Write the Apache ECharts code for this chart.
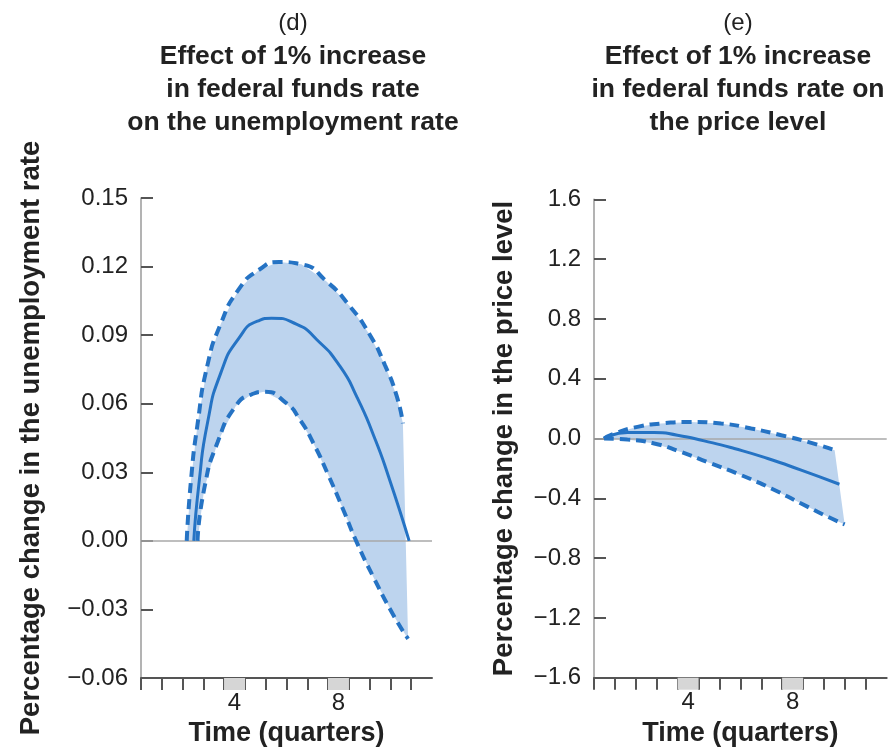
<!DOCTYPE html>
<html>
<head>
<meta charset="utf-8">
<script src="https://cdn.jsdelivr.net/npm/echarts@6/dist/echarts.min.js"></script>
<style>
  html, body { margin: 0; padding: 0; background: #fff; }
  #chart { width: 894px; height: 752px; }
</style>
</head>
<body>
<div id="chart"></div>
<script>
// Responses to a 1% rise in the federal funds rate.
// x = time in quarter slots along the axis, y = percentage change.

// (d) unemployment rate: point estimate and confidence band
const unempUpper = [[2.2, 0], [2.4, 0.026], [2.72, 0.051], [3.2, 0.077], [3.84, 0.095],
  [4.7, 0.11], [5.68, 0.1186], [6.64, 0.122], [7.72, 0.121], [8.93, 0.1135],
  [10.05, 0.1026], [11.0, 0.0903], [11.73, 0.077], [12.3, 0.0634], [12.6, 0.0514]];
const unempMid = [[2.54, 0], [2.8, 0.026], [3.2, 0.0517], [3.84, 0.0735], [4.72, 0.0888],
  [5.6, 0.0961], [6.28, 0.0974], [7.5, 0.0947], [8.45, 0.0881], [9.57, 0.0764],
  [10.4, 0.0627], [11.2, 0.0459], [11.9, 0.0284], [12.9, 0]];
const unempLower = [[2.72, 0], [3.04, 0.0227], [3.68, 0.043], [4.56, 0.059], [5.3, 0.064],
  [5.92, 0.0652], [6.96, 0.0605], [7.64, 0.0531], [8.3, 0.0426], [9.0, 0.029],
  [9.7, 0.0143], [10.35, 0], [11.2, -0.0162], [12.2, -0.0334], [12.85, -0.0429]];

// (e) price level: point estimate and confidence band
const priceUpper = [[0.48, 0], [0.96, 0.033], [2.08, 0.078], [3.2, 0.1], [4.64, 0.111],
  [6.08, 0.1], [7.52, 0.067], [8.96, 0.022], [10.23, -0.023], [11.51, -0.078]];
const priceMid = [[0.48, 0], [1.6, 0.04], [2.88, 0.04], [3.99, 0.022], [5.27, -0.016],
  [6.71, -0.067], [8.31, -0.134], [9.91, -0.212], [11.74, -0.306]];
const priceLower = [[0.48, 0], [1.6, -0.007], [2.88, -0.033], [4.16, -0.09], [5.6, -0.167],
  [7.04, -0.245], [8.48, -0.334], [9.91, -0.435], [11.19, -0.524], [11.99, -0.575]];

// axis ticks and labels
const unempTicks = [-0.06, -0.03, 0.00, 0.03, 0.06, 0.09, 0.12, 0.15];
const priceTicks = [-1.6, -1.2, -0.8, -0.4, 0.0, 0.4, 0.8, 1.2, 1.6];
const slotCount = 14;                // number of slots along the time axis
const quarterLabels = ['4', '8'];    // numbered, highlighted slots
const quarterLabelSlots = [4, 9];    // slot index that carries each label

const FONT = '"Liberation Sans", Arial, Helvetica, sans-serif';
const BLUE = '#2573c4';
const FILL = '#bdd4ee';
const INK = '#222';

const slotBounds = [];
for (let s = 0; s < slotCount; s++) slotBounds.push(s);
const labelAt = {};
quarterLabelSlots.forEach((s, i) => { labelAt[s + 0.5] = quarterLabels[i]; });

function minusFmt(digits) {
  return v => (v < -1e-9 ? '\u2212' : '') + Math.abs(v).toFixed(digits);
}

function xAxisFor(gridIndex) {
  return {
    type: 'value', gridIndex, min: 0, max: slotCount,
    splitLine: { show: false },
    axisLine: { show: true, onZero: false, lineStyle: { color: '#555', width: 2 } },
    axisTick: { show: true, customValues: slotBounds, length: 12, lineStyle: { color: '#555', width: 2 } },
    axisLabel: {
      show: true, margin: 0,
      customValues: quarterLabelSlots.map(s => s + 0.5),
      formatter: v => '{box|}\n{num|' + (labelAt[v] || '') + '}',
      rich: {
        box: { width: 21, height: 12, backgroundColor: '#d6d6d6' },
        num: { fontSize: 24, fontFamily: FONT, color: INK, lineHeight: 25, padding: [1, 0, 0, 0] }
      }
    },
    name: 'Time (quarters)', nameLocation: 'middle', nameGap: 42,
    nameTextStyle: { fontSize: 27, fontWeight: 'bold', fontFamily: FONT, color: INK }
  };
}

function yAxisFor(gridIndex, ticks, digits, title, gap) {
  return {
    type: 'value', gridIndex,
    min: ticks[0], max: ticks[ticks.length - 1],
    interval: +(ticks[1] - ticks[0]).toFixed(6),
    splitLine: { show: false },
    axisLine: { show: true, lineStyle: { color: '#9a9a9a', width: 1.5 } },
    axisTick: { show: true, inside: true, length: 12, lineStyle: { color: '#555', width: 2 } },
    axisLabel: { fontSize: 24, fontFamily: FONT, color: INK, margin: 13, formatter: minusFmt(digits) },
    name: title, nameLocation: 'middle', nameRotate: 90, nameGap: gap,
    nameTextStyle: { fontSize: 27.5, fontWeight: 'bold', fontFamily: FONT, color: INK }
  };
}

function bandSeries(idx, upper, lower) {
  return {
    type: 'custom', xAxisIndex: idx, yAxisIndex: idx, z: 1, silent: true,
    data: [[0, 0]],
    renderItem: (params, api) => {
      const pts = upper.map(p => api.coord(p))
        .concat(lower.slice().reverse().map(p => api.coord(p)));
      return { type: 'polygon', shape: { points: pts }, style: { fill: FILL } };
    },
    markLine: {
      silent: true, symbol: 'none', z: 2, animation: false,
      label: { show: false },
      lineStyle: { color: '#a8a8a8', width: 1.5, type: 'solid' },
      data: [{ yAxis: 0 }]
    }
  };
}

function curve(idx, data, dashed) {
  return {
    type: 'line', xAxisIndex: idx, yAxisIndex: idx, z: 3,
    data, smooth: 0.6, showSymbol: false, silent: true,
    lineStyle: dashed
      ? { color: BLUE, width: 4, type: [10, 6] }
      : { color: BLUE, width: 3 }
  };
}

function titleBlock(tag, lines, center) {
  return {
    left: center, top: 6, padding: 0, textAlign: 'center',
    text: '{n|' + tag + '}\n' + lines.map(l => '{b|' + l + '}').join('\n'),
    textStyle: {
      rich: {
        n: { fontSize: 24, fontWeight: 'normal', fontFamily: FONT, color: INK, lineHeight: 34, align: 'center' },
        b: { fontSize: 26.5, fontWeight: 'bold', fontFamily: FONT, color: INK, lineHeight: 33, align: 'center' }
      }
    }
  };
}

const chart = echarts.init(document.getElementById('chart'), null, { renderer: 'canvas' });
chart.setOption({
  animation: false,
  backgroundColor: '#fff',
  title: [
    titleBlock('(d)', ['Effect of 1% increase', 'in federal funds rate', 'on the unemployment rate'], 293),
    titleBlock('(e)', ['Effect of 1% increase', 'in federal funds rate on', 'the price level'], 738)
  ],
  grid: [
    { left: 141, top: 198, width: 291, height: 481.6 },
    { left: 594, top: 199.3, width: 292.7, height: 478.4 }
  ],
  xAxis: [xAxisFor(0), xAxisFor(1)],
  yAxis: [
    yAxisFor(0, unempTicks, 2, 'Percentage change in the unemployment rate', 96),
    yAxisFor(1, priceTicks, 1, 'Percentage change in the price level', 76)
  ],
  series: [
    bandSeries(0, unempUpper, unempLower),
    curve(0, unempUpper, true),
    curve(0, unempLower, true),
    curve(0, unempMid, false),
    bandSeries(1, priceUpper, priceLower),
    curve(1, priceUpper, true),
    curve(1, priceLower, true),
    curve(1, priceMid, false)
  ]
});
</script>
</body>
</html>
